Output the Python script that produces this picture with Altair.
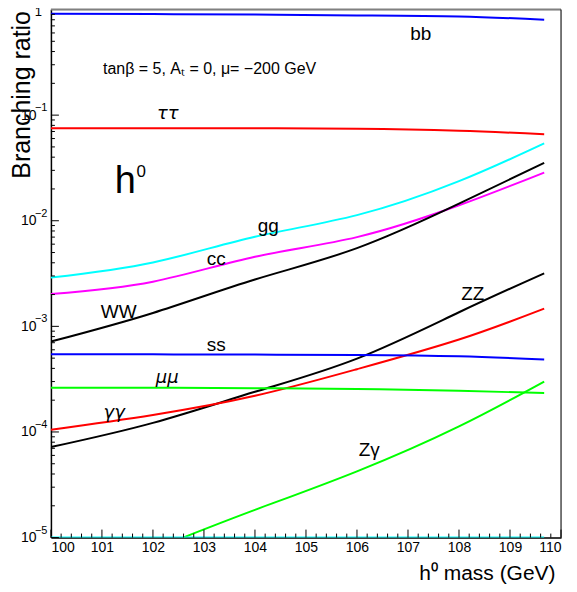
import altair as alt
import pandas as pd
import math

# ---- data ----
mass = [100, 102, 104, 106, 108, 109.67]
br_bb = [0.91, 0.905, 0.895, 0.88, 0.86, 0.80]
br_tautau = [0.075, 0.0752, 0.075, 0.0745, 0.0712, 0.066]
br_gg = [0.0029, 0.00403, 0.00705, 0.0113, 0.0237, 0.054]
br_cc = [0.00202, 0.00265, 0.00456, 0.0070, 0.0140, 0.0286]
br_WW = [0.000718, 0.00134, 0.00278, 0.0055, 0.0145, 0.0353]
br_ZZ = [7.2e-5, 1.22e-4, 2.4e-4, 4.95e-4, 1.36e-3, 3.18e-3]
br_gamgam = [1.05e-4, 1.45e-4, 2.2e-4, 3.93e-4, 7.5e-4, 1.47e-3]
br_ss = [5.45e-4, 5.43e-4, 5.4e-4, 5.35e-4, 5.2e-4, 4.85e-4]
br_mumu = [2.62e-4, 2.62e-4, 2.6e-4, 2.55e-4, 2.45e-4, 2.34e-4]
mass_Zgam = [102.59, 104, 106, 108, 109.67]
br_Zgam = [1e-5, 1.83e-5, 4.24e-5, 1.13e-4, 3.0e-4]
mass_floor = [100, 109.67]
br_floor = [1e-5, 1e-5]

series_names = ["bb", "tautau", "gg", "cc", "WW", "ZZ", "gamgam", "ss", "mumu", "Zgam", "floor"]
series_colors = ["#0000ff", "#ff0000", "#00ffff", "#ff00ff", "#000000", "#000000",
                 "#ff0000", "#0000ff", "#00ff00", "#00ff00", "#00ffff"]

rows = []
for name, vals in [("bb", br_bb), ("tautau", br_tautau), ("gg", br_gg), ("cc", br_cc),
                   ("WW", br_WW), ("ZZ", br_ZZ), ("gamgam", br_gamgam), ("ss", br_ss),
                   ("mumu", br_mumu)]:
    for m, v in zip(mass, vals):
        rows.append({"series": name, "mass": m, "br": v})
for m, v in zip(mass_Zgam, br_Zgam):
    rows.append({"series": "Zgam", "mass": m, "br": v})
for m, v in zip(mass_floor, br_floor):
    rows.append({"series": "floor", "mass": m, "br": v})
lines_df = pd.DataFrame(rows)

# labels (text, mass, value at baseline)
lab_text = ["bb", "gg", "cc", "WW", "ss", "ZZ", "Zγ"]
lab_mass = [107.25, 104.26, 103.24, 101.33, 103.24, 108.27, 106.24]
lab_val = [0.52, 0.0079, 0.0038, 0.0012, 5.86e-4, 0.00178, 5.96e-5]
greek_text = ["ττ", "μμ", "γγ"]
greek_mass = [102.29, 102.28, 101.24]
greek_val = [0.092, 2.92e-4, 1.36e-4]

# y tick labels: mantissa "10" on the axis, exponent drawn as superscript
y_tick_vals = [1e-5, 1e-4, 1e-3, 1e-2, 1e-1]
y_tick_exps = ["−5", "−4", "−3", "−2", "−1"]

W, H = 511, 529
FONT = "Liberation Sans"

xs = alt.X("mass:Q", scale=alt.Scale(domain=[100, 110], nice=False, zero=False),
           axis=alt.Axis(values=list(range(100, 111)), ticks=False, grid=False,
                         labelFont=FONT, labelFontSize=14, labelColor="black",
                         labelPadding=3, domainColor="black", domainWidth=1.5,
                         title="h⁰ mass (GeV)", titleFont=FONT, titleFontSize=21,
                         titleFontWeight="normal", titleColor="black",
                         titleAlign="right", titleX=505, titleY=42,
                         titleBaseline="alphabetic"))
ys = alt.Y("br:Q", scale=alt.Scale(type="log", domain=[1e-5, 1], nice=False),
           axis=alt.Axis(values=y_tick_vals, labelExpr="'10'",
                         ticks=False, grid=False, labelFont=FONT, labelFontSize=14,
                         labelColor="black", labelPadding=15, domainColor="black",
                         domainWidth=1.5, title="Branching ratio", titleFont=FONT,
                         titleFontSize=25, titleFontWeight="normal", titleColor="black",
                         titleAngle=270, titleAlign="right", titleBaseline="top",
                         titleX=-41, titleY=1))

lines = alt.Chart(lines_df).mark_line(strokeWidth=2, interpolate="natural", clip=True).encode(
    x=xs, y=ys,
    color=alt.Color("series:N", scale=alt.Scale(domain=series_names, range=series_colors),
                    legend=None),
    detail="series:N",
)

# ticks (drawn inward)
y_major = [10.0 ** e for e in range(-5, 1)]
y_minor = [k * 10.0 ** e for e in range(-5, 0) for k in range(2, 10)]
x_major = list(range(100, 111))
x_minor = [round(100 + 0.2 * i, 1) for i in range(51) if i % 5 != 0]

ymaj = alt.Chart(pd.DataFrame({"br": y_major})).mark_rule(color="black", strokeWidth=1).encode(
    y=alt.Y("br:Q"), x=alt.value(0), x2=alt.value(8))
ymin = alt.Chart(pd.DataFrame({"br": y_minor})).mark_rule(color="black", strokeWidth=1).encode(
    y=alt.Y("br:Q"), x=alt.value(0), x2=alt.value(4))
xmaj = alt.Chart(pd.DataFrame({"mass": x_major})).mark_rule(color="black", strokeWidth=1).encode(
    x=alt.X("mass:Q"), y=alt.value(H), y2=alt.value(H - 8))
xmin = alt.Chart(pd.DataFrame({"mass": x_minor})).mark_rule(color="black", strokeWidth=1).encode(
    x=alt.X("mass:Q"), y=alt.value(H), y2=alt.value(H - 4))

sup = alt.Chart(pd.DataFrame({"t": y_tick_exps, "br": y_tick_vals})).mark_text(
    font=FONT, fontSize=11, color="black", baseline="alphabetic", align="left", dy=-4).encode(
    x=alt.value(-16), y="br:Q", text="t:N")
one = alt.Chart(pd.DataFrame({"t": ["1"], "br": [1.0]})).mark_text(
    font=FONT, fontSize=13, color="black", baseline="middle", align="right", dy=2).encode(
    x=alt.value(-9), y="br:Q", text="t:N")

top_border = alt.Chart(pd.DataFrame({"a": [0]})).mark_rule(color="#808080", strokeWidth=2).encode(
    x=alt.value(0), x2=alt.value(W), y=alt.value(0))
right_border = alt.Chart(pd.DataFrame({"a": [0]})).mark_rule(color="black", strokeWidth=1).encode(
    x=alt.value(W), y=alt.value(0), y2=alt.value(H))

labels = alt.Chart(pd.DataFrame({"t": lab_text, "mass": lab_mass, "br": lab_val})).mark_text(
    font=FONT, fontSize=19, color="black", baseline="alphabetic", align="center").encode(
    x="mass:Q", y="br:Q", text="t:N")
greek = alt.Chart(pd.DataFrame({"t": greek_text, "mass": greek_mass, "br": greek_val})).mark_text(
    font="DejaVu Sans", fontSize=18, fontStyle="italic", color="black",
    baseline="alphabetic", align="center").encode(
    x="mass:Q", y="br:Q", text="t:N")

param = alt.Chart(pd.DataFrame({"t": ["tanβ = 5, Aₜ = 0, μ= −200 GeV"], "mass": [101.02],
                                "br": [0.2467]})).mark_text(
    font=FONT, fontSize=16, color="black", baseline="alphabetic", align="left").encode(
    x="mass:Q", y="br:Q", text="t:N")
h_big = alt.Chart(pd.DataFrame({"t": ["h"], "mass": [101.25], "br": [0.0182]})).mark_text(
    font=FONT, fontSize=38, color="black", baseline="alphabetic", align="left").encode(
    x="mass:Q", y="br:Q", text="t:N")
h_sup = alt.Chart(pd.DataFrame({"t": ["0"], "mass": [101.68], "br": [0.0262]})).mark_text(
    font=FONT, fontSize=17, color="black", baseline="alphabetic", align="left").encode(
    x="mass:Q", y="br:Q", text="t:N")

chart = alt.layer(lines, ymaj, ymin, xmaj, xmin, sup, one, top_border, right_border,
                  labels, greek, param, h_big, h_sup).properties(
    width=W, height=H,
    padding={"left": 43, "top": 1, "right": 8, "bottom": 54},
    autosize=alt.AutoSizeParams(type="none"),
).configure_view(stroke=None).configure(background="white")

chart.save("out.html", embed_options={"renderer": "svg", "actions": False})
